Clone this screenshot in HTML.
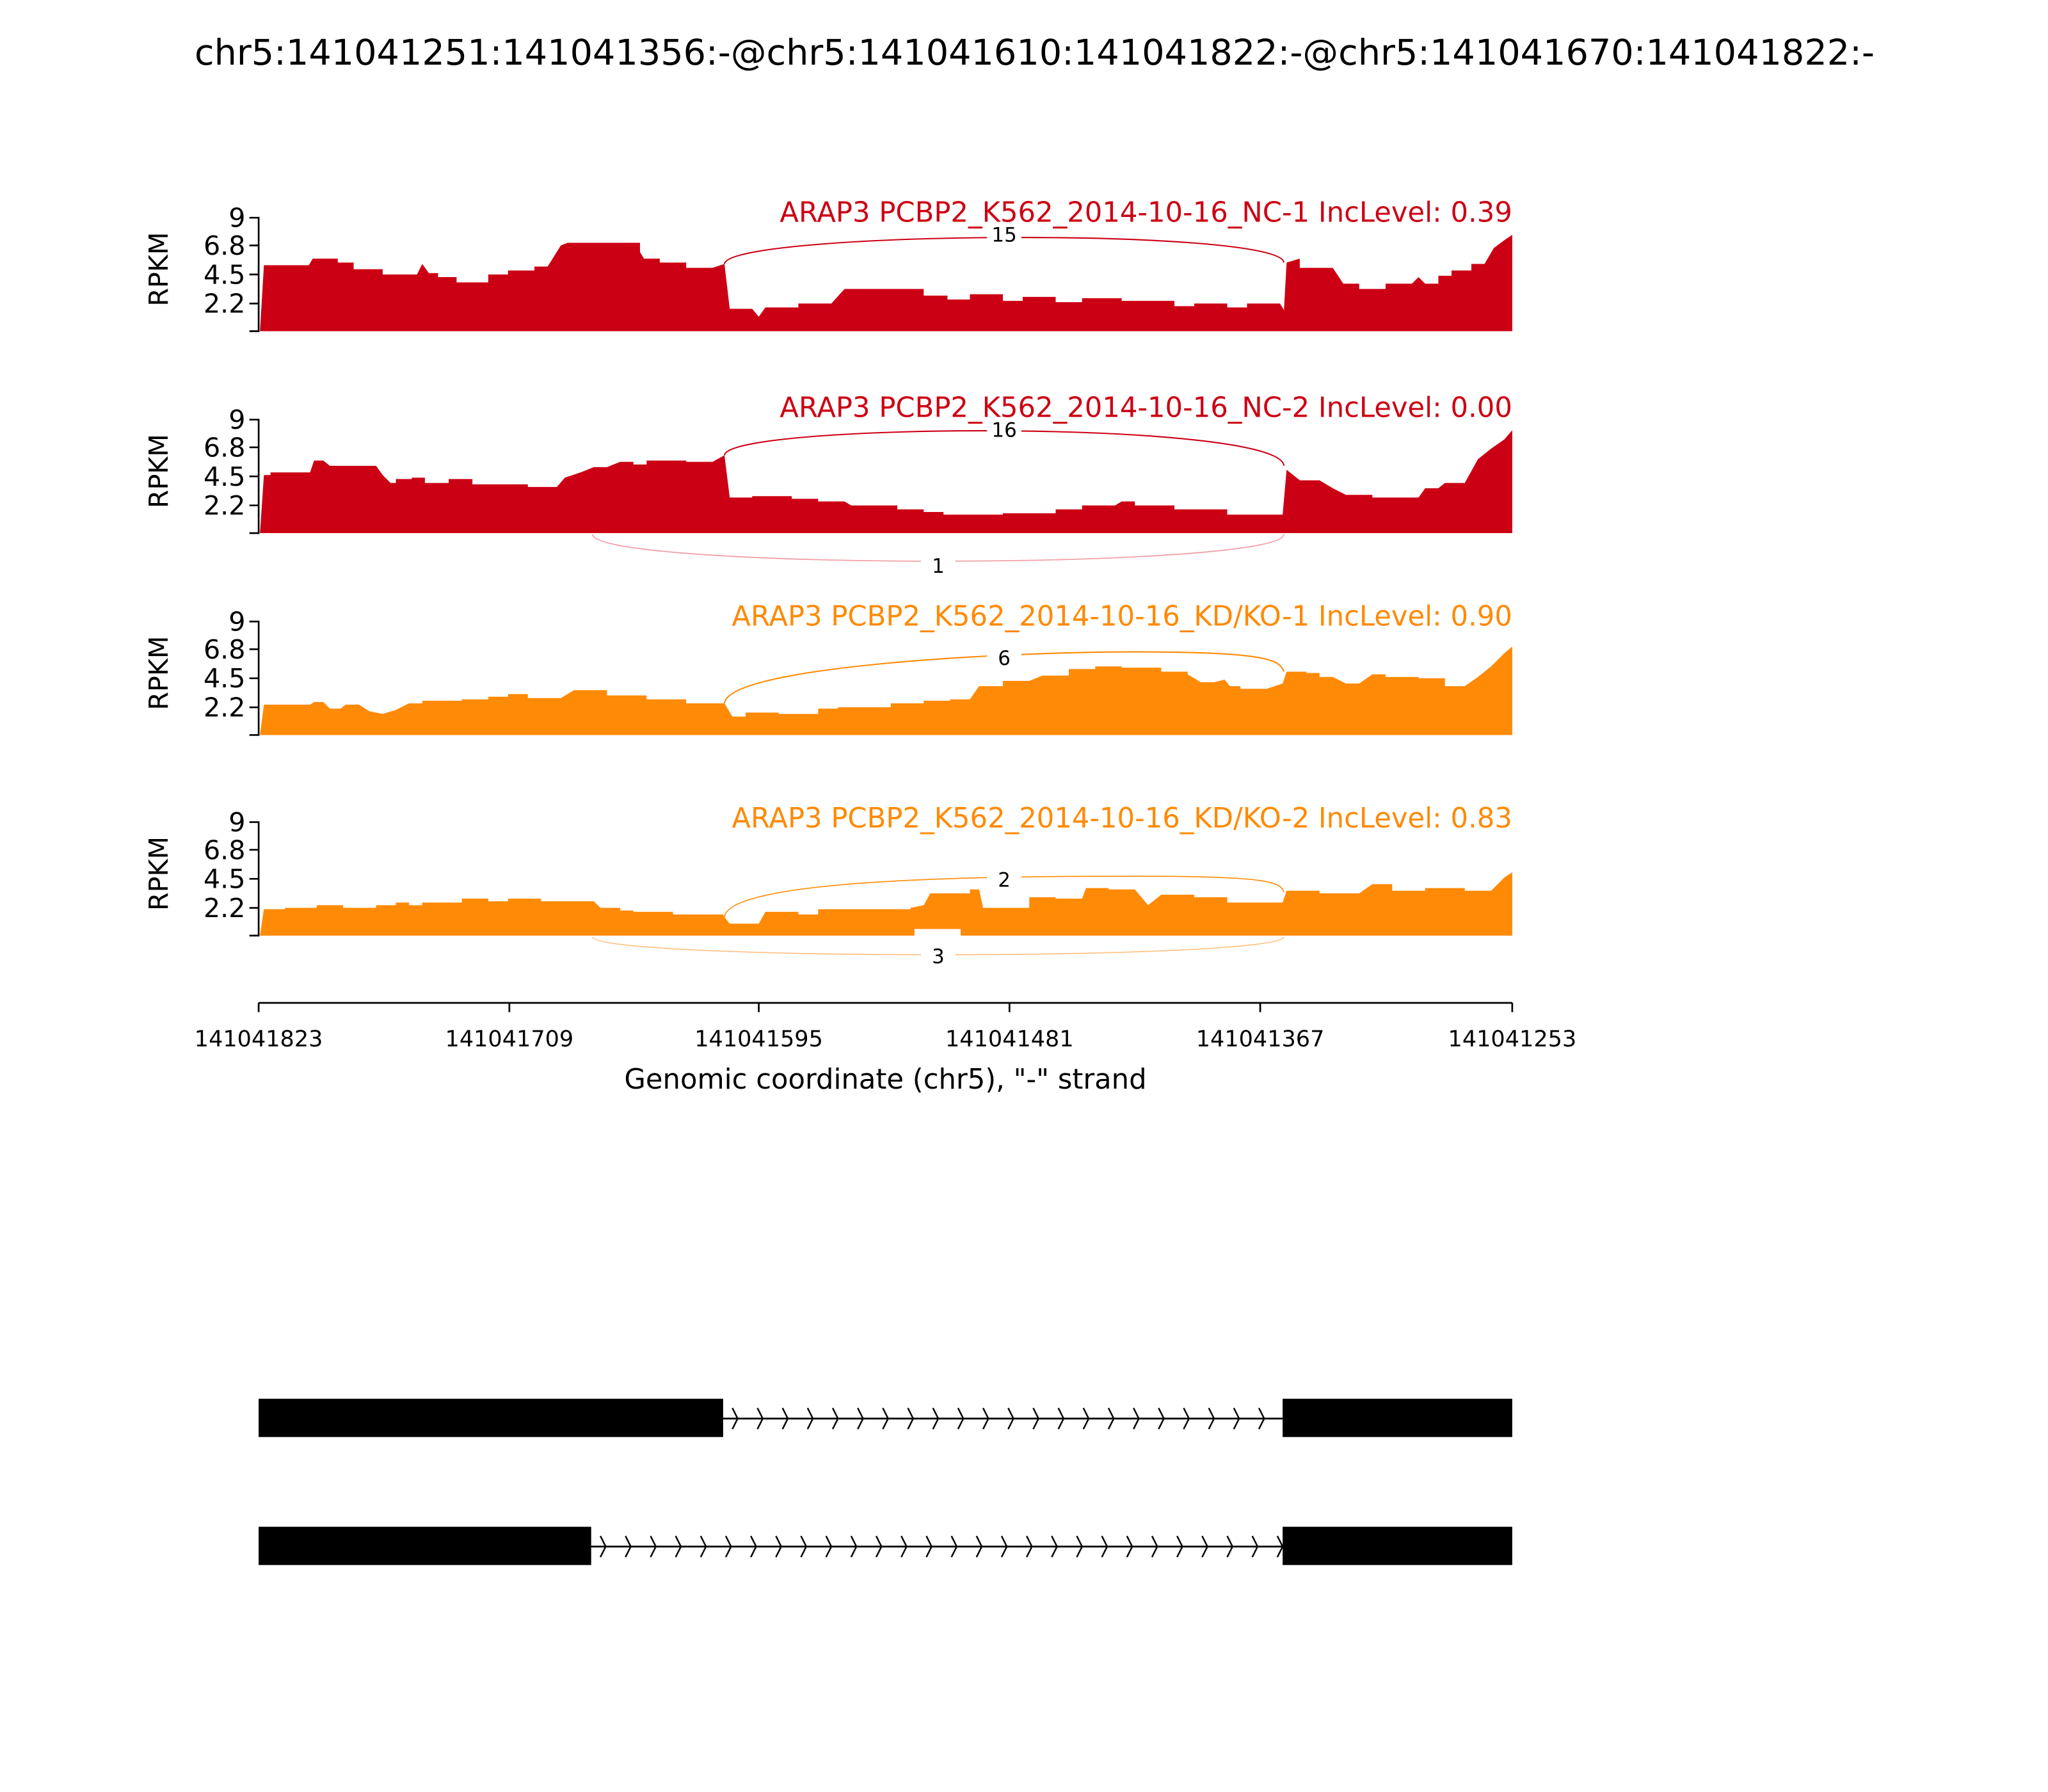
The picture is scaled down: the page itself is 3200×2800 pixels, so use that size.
<!DOCTYPE html>
<html><head><meta charset="utf-8"><style>html,body{margin:0;padding:0;background:#fff}svg{display:block}text{font-family:"DejaVu Sans","Liberation Sans",sans-serif}</style></head>
<body>
<svg width="3200" height="2800" viewBox="0 0 1552 1358" preserveAspectRatio="none" xmlns="http://www.w3.org/2000/svg">
<defs>
<pattern id="chev" x="0" y="0" width="19" height="20" patternUnits="userSpaceOnUse" patternTransform="translate(552,1065)">
<path d="M3,2 L7,10 L3,18" fill="none" stroke="#000" stroke-width="1.2"/>
</pattern>
<pattern id="chev2" x="0" y="0" width="19" height="20" patternUnits="userSpaceOnUse" patternTransform="translate(452,1162)">
<path d="M3,2 L7,10 L3,18" fill="none" stroke="#000" stroke-width="1.2"/>
</pattern>
</defs>
<text x="784" y="49" font-size="27" text-anchor="middle">chr5:141041251:141041356:-@chr5:141041610:141041822:-@chr5:141041670:141041822:-</text>

<!-- Panel 1 -->
<g>
<path fill="#cc0014" d="M197,251 L200,201 H234 L237,196 H256 V199 H268 V204 H290 V208 H316 L320,200 L325,207 H332 V210 H346 V214 H370 V208 H385 V205 H405 V202 H415 L425,186 L430,184 H485 V191 L488,196 H500 V199 H520 V203 H540 L549,200 L553,234 H570 L575,240 L580,233 H605 V230 H630 L640,219 H700 V224 H718 V227 H735 V223 H760 V228 H775 V225 H800 V229 H820 V226 H850 V228 H890 V232 H905 V230 H930 V233 H945 V230 H970 L973,235 L975,199 L985,196 V203 H1010 L1018,215 H1030 V219 H1050 V215 H1070 L1075,210 L1080,215 H1090 V209 H1100 V205 H1115 V200 H1125 L1132,188 L1140,182 L1146,178 V251 Z"/>
<path d="M549,200 C552,175 970,172 973,199" fill="none" stroke="#cc0014" stroke-width="1"/>
<rect x="748" y="169" width="26" height="16" fill="#fff"/>
<text x="761" y="183" font-size="15" text-anchor="middle">15</text>
<text x="1146" y="168" font-size="21" text-anchor="end" fill="#cc0014">ARAP3 PCBP2_K562_2014-10-16_NC-1 IncLevel: 0.39</text>
</g>

<!-- Panel 2 -->
<g>
<path fill="#cc0014" d="M197,404 L200,360 H205 V358 H235 L238,349 H245 L250,353 H285 L290,360 L296,366 H300 V363 H312 V362 H322 V366 H340 V363 H358 V367 H400 V369 H422 L428,362 L440,358 L450,354 H460 L470,350 H480 V352 H490 V349 H520 V350 H540 L549,345 L553,377 H570 V376 H600 V378 H620 V380 H640 L645,383 H680 V386 H700 V388 H715 V390 H760 V389 H800 V386 H820 V383 H845 L850,380 H860 V383 H890 V386 H930 V390 H972 L975,356 L985,364 H1000 L1010,370 L1020,375 H1040 V377 H1075 L1080,370 L1090,370 L1095,366 H1110 L1120,348 L1130,340 L1140,333 L1146,326 V404 Z"/>
<path d="M549,345 C552,320 970,318 973,353" fill="none" stroke="#cc0014" stroke-width="1"/>
<rect x="748" y="317" width="26" height="16" fill="#fff"/>
<text x="761" y="331" font-size="15" text-anchor="middle">16</text>
<path d="M449,405 C452,432 970,432 973,405" fill="none" stroke="#f09aa2" stroke-width="0.8"/>
<rect x="698" y="420" width="26" height="17" fill="#fff"/>
<text x="711" y="434" font-size="15" text-anchor="middle">1</text>
<text x="1146" y="316" font-size="21" text-anchor="end" fill="#cc0014">ARAP3 PCBP2_K562_2014-10-16_NC-2 IncLevel: 0.00</text>
</g>

<!-- Panel 3 -->
<g>
<path fill="#ff8a05" d="M197,557 L200,534 H235 L238,532 H245 L250,537 H258 L262,534 H272 L280,539 L290,541 L300,538 L310,533 H320 V531 H350 V530 H370 V528 H385 V526 H400 V529 H425 L435,523 H460 V527 H490 V530 H520 V533 H548 L549,533 L555,543 H565 V540 H590 V541 H620 V537 H635 V536 H675 V533 H700 V531 H720 V530 H735 L742,520 H760 V516 H780 L790,512 H810 V507 H830 V505 H850 V506 H880 V509 H900 V511 L910,517 H920 L928,515 L932,520 H940 V522 H960 L972,518 L975,509 H990 V510 H1000 V513 H1010 L1020,518 H1030 L1040,511 H1050 V513 H1075 V514 H1095 V520 H1110 L1120,513 L1130,505 L1140,495 L1146,490 V557 Z"/>
<path d="M549,533 C552,505 760,494 860,494 C960,494 970,500 973,509" fill="none" stroke="#ff8a05" stroke-width="1"/>
<rect x="748" y="490" width="26" height="17" fill="#fff"/>
<text x="761" y="504" font-size="15" text-anchor="middle">6</text>
<text x="1146" y="474" font-size="21" text-anchor="end" fill="#ff8a05">ARAP3 PCBP2_K562_2014-10-16_KD/KO-1 IncLevel: 0.90</text>
</g>

<!-- Panel 4 -->
<g>
<path fill="#ff8a05" d="M197,709 L200,689 H216 V688 H240 V686 H260 V688 H285 V686 H300 V684 H310 V686 H320 V684 H350 V681 H370 V683 H385 V681 H410 V683 H450 L455,688 H470 V690 H480 V691 H510 V693 H548 L549,695 L553,700 H575 L580,691 H605 V693 H620 V689 H690 V688 L700,686 L705,677 H735 V674 H742 L745,688 H780 V680 H800 V681 H820 L823,673 H840 V674 H860 L870,686 L880,678 H905 V680 H930 V684 H972 L975,675 H1000 V677 H1030 L1040,670 H1055 V675 H1080 V673 H1110 V675 H1130 L1140,665 L1146,661 V709 Z"/>
<rect x="693" y="704" width="35" height="6" fill="#fff"/>
<path d="M549,695 C552,665 760,664 860,664 C960,664 970,668 973,676" fill="none" stroke="#ff8a05" stroke-width="0.8"/>
<rect x="748" y="658" width="26" height="17" fill="#fff"/>
<text x="761" y="672" font-size="15" text-anchor="middle">2</text>
<path d="M449,710 C452,728 970,728 973,710" fill="none" stroke="#ffc080" stroke-width="0.8"/>
<rect x="698" y="716" width="26" height="17" fill="#fff"/>
<text x="711" y="730" font-size="15" text-anchor="middle">3</text>
<text x="1146" y="627" font-size="21" text-anchor="end" fill="#ff8a05">ARAP3 PCBP2_K562_2014-10-16_KD/KO-2 IncLevel: 0.83</text>
</g>

<!-- Y axes -->
<g stroke="#000" stroke-width="1.3" fill="none">
<path d="M189,165 H196 V251 H189 M189,186 H196 M189,208 H196 M189,230 H196"/>
<path d="M189,318 H196 V404 H189 M189,339 H196 M189,361 H196 M189,383 H196"/>
<path d="M189,471 H196 V557 H189 M189,492 H196 M189,514 H196 M189,536 H196"/>
<path d="M189,623 H196 V709 H189 M189,644 H196 M189,666 H196 M189,688 H196"/>
</g>
<g font-size="20" text-anchor="end">
<text x="186" y="172">9</text><text x="186" y="193">6.8</text><text x="186" y="215">4.5</text><text x="186" y="237">2.2</text>
<text x="186" y="325">9</text><text x="186" y="346">6.8</text><text x="186" y="368">4.5</text><text x="186" y="390">2.2</text>
<text x="186" y="478">9</text><text x="186" y="499">6.8</text><text x="186" y="521">4.5</text><text x="186" y="543">2.2</text>
<text x="186" y="630">9</text><text x="186" y="651">6.8</text><text x="186" y="673">4.5</text><text x="186" y="695">2.2</text>
</g>
<g font-size="20" text-anchor="middle">
<text transform="translate(127,204) rotate(-90)">RPKM</text>
<text transform="translate(127,357) rotate(-90)">RPKM</text>
<text transform="translate(127,510) rotate(-90)">RPKM</text>
<text transform="translate(127,662) rotate(-90)">RPKM</text>
</g>

<!-- X axis -->
<g stroke="#000" stroke-width="1.3">
<path d="M196,760 H1146 M196,760 V767 M386,760 V767 M575,760 V767 M765,760 V767 M955,760 V767 M1146,760 V767"/>
</g>
<g font-size="17" text-anchor="middle">
<text x="196" y="793">141041823</text><text x="386" y="793">141041709</text><text x="575" y="793">141041595</text>
<text x="765" y="793">141041481</text><text x="955" y="793">141041367</text><text x="1146" y="793">141041253</text>
</g>
<text x="671" y="825" font-size="21" text-anchor="middle">Genomic coordinate (chr5), "-" strand</text>

<!-- Gene models -->
<rect x="196" y="1060" width="352" height="29" fill="#000"/>
<rect x="972" y="1060" width="174" height="29" fill="#000"/>
<line x1="548" y1="1075" x2="972" y2="1075" stroke="#000" stroke-width="1.3"/>
<rect x="548" y="1065" width="424" height="20" fill="url(#chev)"/>
<rect x="196" y="1157" width="252" height="29" fill="#000"/>
<rect x="972" y="1157" width="174" height="29" fill="#000"/>
<line x1="448" y1="1172" x2="972" y2="1172" stroke="#000" stroke-width="1.3"/>
<rect x="448" y="1162" width="524" height="20" fill="url(#chev2)"/>
</svg>
</body></html>
